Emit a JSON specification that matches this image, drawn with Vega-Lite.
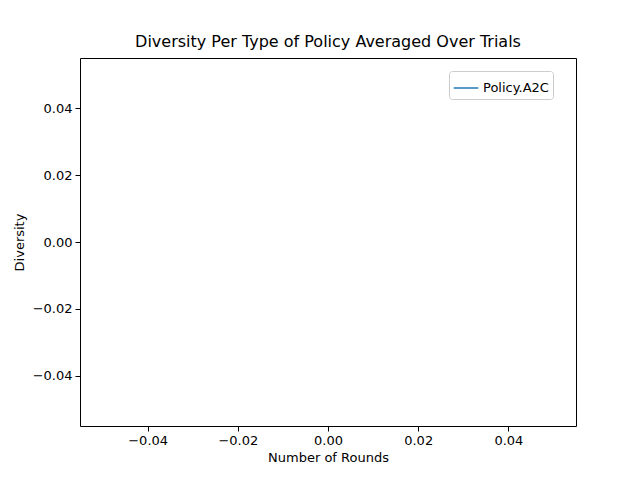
{
  "$schema": "https://vega.github.io/schema/vega-lite/v6.json",
  "autosize": {"type": "none"},
  "padding": {"left": 80, "top": 58, "right": 64, "bottom": 54},
  "width": 496,
  "height": 368,
  "config": {
    "font": "DejaVu Sans",
    "view": {"stroke": "black", "strokeWidth": 1},
    "axis": {
      "grid": false, "domain": false, "tickColor": "black", "tickSize": 5,
      "labelFontSize": 13, "labelColor": "black", "titleFontSize": 13,
      "titleFontWeight": "normal", "titleColor": "black"
    }
  },
  "title": {"text": "Diversity Per Type of Policy Averaged Over Trials", "fontSize": 16, "fontWeight": "normal", "offset": 8},
  "data": {"values": [{"round": 0, "diversity": 0, "policy": "Policy.A2C"}]},
  "mark": {"type": "line", "strokeWidth": 1.5},
  "encoding": {
    "x": {
      "field": "round", "type": "quantitative", "title": "Number of Rounds",
      "scale": {"domain": [-0.055, 0.055], "nice": false, "zero": false},
      "axis": {"values": [-0.04, -0.02, 0, 0.02, 0.04], "labelExpr": "replace(format(datum.value, '.2f'), '-', '\u2212')", "titlePadding": 4, "labelPadding": 3}
    },
    "y": {
      "field": "diversity", "type": "quantitative", "title": "Diversity",
      "scale": {"domain": [-0.055, 0.055], "nice": false, "zero": false},
      "axis": {"values": [-0.04, -0.02, 0, 0.02, 0.04], "labelExpr": "replace(format(datum.value, '.2f'), '-', '\u2212')", "titlePadding": 6, "labelPadding": 3}
    },
    "color": {
      "field": "policy", "type": "nominal",
      "scale": {"range": ["#1f77b4"]},
      "legend": {
        "title": null, "orient": "none", "legendX": 369, "legendY": 13,
        "symbolType": "stroke", "symbolSize": 600, "symbolStrokeWidth": 1.5,
        "labelFontSize": 13, "strokeColor": "#cccccc", "fillColor": "white",
        "padding": 4, "cornerRadius": 3
      }
    }
  }
}
